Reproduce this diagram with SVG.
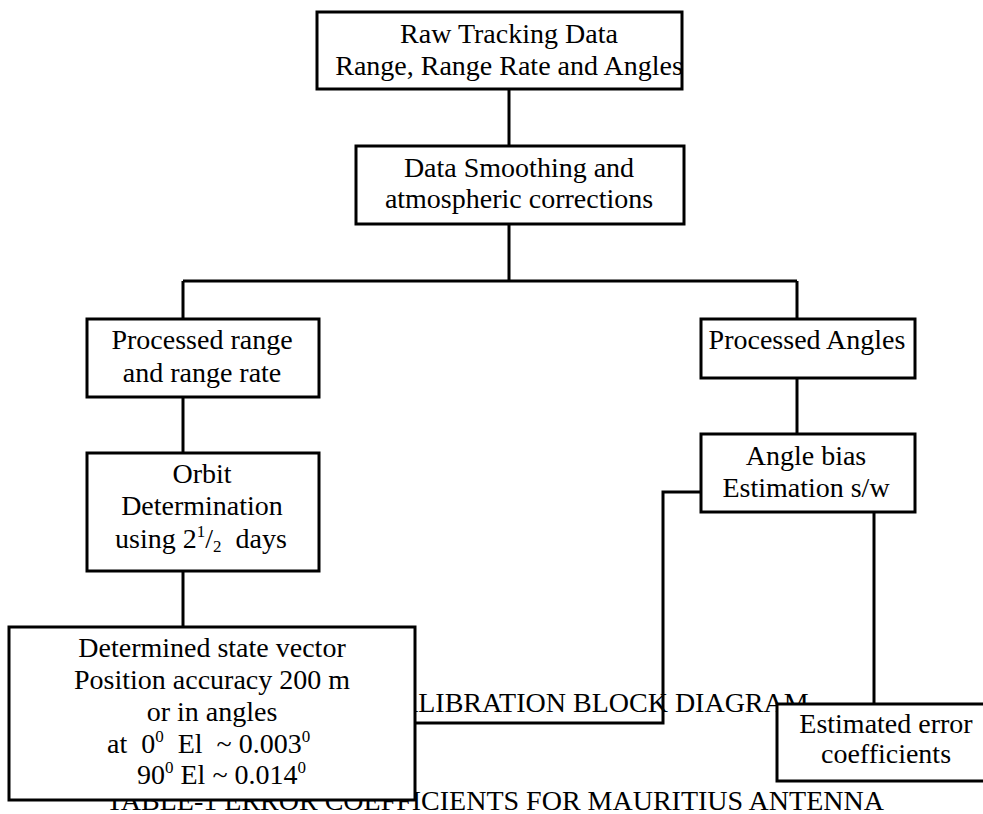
<svg xmlns="http://www.w3.org/2000/svg" width="983" height="814" viewBox="0 0 983 814">
<style>
text{font-family:"Liberation Serif","Times New Roman",serif;font-size:28px;fill:#000}
.c{text-anchor:middle}
.box{fill:#fff;stroke:#000;stroke-width:3}
.ln{fill:none;stroke:#000;stroke-width:3}
.sup{font-size:17px}
</style>
<rect width="983" height="814" fill="#fff"/>
<g id="captions">
<text x="398" y="712">ALIBRATION BLOCK DIAGRAM</text>
<text x="106" y="810">TABLE-1 ERROR COEFFICIENTS FOR MAURITIUS ANTENNA</text>
</g>
<g id="connectors">
<path class="ln" d="M509 89V146"/>
<path class="ln" d="M509 224V281M183 281H797M183 281V319M797 281V319"/>
<path class="ln" d="M183 397V453"/>
<path class="ln" d="M183 571V627"/>
<path class="ln" d="M797 378V434"/>
<path class="ln" d="M701 492H663V723H415"/>
<path class="ln" d="M874 512V704"/>
</g>
<g id="raw">
<rect class="box" x="317" y="12" width="365" height="77"/>
<text class="c" x="509" y="43">Raw Tracking Data</text>
<text class="c" x="509" y="75">Range, Range Rate and Angles</text>
</g>
<g id="smooth">
<rect class="box" x="356" y="146" width="328" height="78"/>
<text class="c" x="519" y="177">Data Smoothing and</text>
<text class="c" x="519" y="208">atmospheric corrections</text>
</g>
<g id="prange">
<rect class="box" x="87" y="319" width="232" height="78"/>
<text class="c" x="202" y="349">Processed range</text>
<text class="c" x="202" y="382">and range rate</text>
</g>
<g id="pangles">
<rect class="box" x="701" y="319" width="214" height="59"/>
<text class="c" x="807" y="349">Processed Angles</text>
</g>
<g id="orbit">
<rect class="box" x="87" y="453" width="232" height="118"/>
<text class="c" x="202" y="483">Orbit</text>
<text class="c" x="202" y="515">Determination</text>
<text x="115" y="548" xml:space="preserve">using 2<tspan class="sup" dy="-11">1</tspan><tspan dy="11">/</tspan><tspan class="sup" dy="4">2</tspan><tspan dy="-4">  days</tspan></text>
</g>
<g id="bias">
<rect class="box" x="701" y="434" width="214" height="78"/>
<text class="c" x="806" y="465">Angle bias</text>
<text class="c" x="806" y="497">Estimation s/w</text>
</g>
<g id="state">
<rect class="box" x="9" y="627" width="406" height="173"/>
<text class="c" x="212" y="657">Determined state vector</text>
<text class="c" x="212" y="689">Position accuracy 200 m</text>
<text class="c" x="212" y="721">or in angles</text>
<text x="107" y="753" xml:space="preserve">at  0<tspan class="sup" dy="-11">0</tspan><tspan dy="11">  El  ~ 0.003</tspan><tspan class="sup" dy="-11">0</tspan></text>
<text x="137" y="784" xml:space="preserve">90<tspan class="sup" dy="-11">0</tspan><tspan dy="11"> El ~ 0.014</tspan><tspan class="sup" dy="-11">0</tspan></text>
</g>
<g id="errcoef">
<rect class="box" x="777" y="704" width="220" height="77"/>
<text class="c" x="886" y="733">Estimated error</text>
<text class="c" x="886" y="763">coefficients</text>
</g>
</svg>
